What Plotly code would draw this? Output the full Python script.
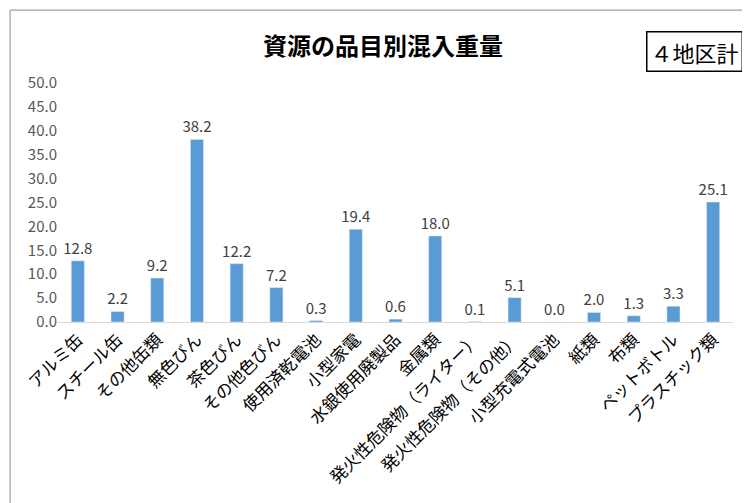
import plotly.graph_objects as go

categories = ["アルミ缶", "スチール缶", "その他缶類", "無色びん", "茶色びん", "その他色びん",
              "使用済乾電池", "小型家電", "水銀使用廃製品", "金属類", "発火性危険物（ライター）",
              "発火性危険物（その他）", "小型充電式電池", "紙類", "布類", "ペットボトル", "プラスチック類"]
values = [12.8, 2.2, 9.2, 38.2, 12.2, 7.2, 0.3, 19.4, 0.6, 18.0, 0.1, 5.1, 0.0, 2.0, 1.3, 3.3, 25.1]

font = "Noto Sans CJK JP"

fig = go.Figure(go.Bar(
    x=categories, y=values, marker_color="#5b9bd5", width=0.33,
    text=[f"{v:.1f}" for v in values], textposition="outside",
    textfont=dict(size=15, color="#404040"), cliponaxis=False,
))

fig.update_layout(
    width=750, height=503,
    margin=dict(l=50, r=25, t=75, b=189, autoexpand=False),
    paper_bgcolor="white", plot_bgcolor="white",
    font=dict(family=font, color="#595959"),
    uniformtext=dict(minsize=15, mode="show"),
    title=dict(text="<b>資源の品目別混入重量</b>", x=0.5, xanchor="center", y=0.94,
               font=dict(size=24, color="black")),
    showlegend=False,
    shapes=[dict(type="rect", xref="paper", yref="paper", x0=-0.071, x1=1.034, y0=-0.782, y1=1.305,
                 line=dict(color="#888", width=1))],
    annotations=[dict(text="４地区計", xref="paper", yref="paper", x=1.015, y=1.13,
                      xanchor="right", yanchor="middle", showarrow=False,
                      font=dict(size=22, color="black"), bordercolor="black", borderwidth=1.5,
                      borderpad=3, bgcolor="white")],
)
fig.update_xaxes(tickangle=-45, tickfont=dict(size=17, color="black"), automargin=False,
                 showline=True, linecolor="#d9d9d9", ticks="")
fig.update_yaxes(range=[0, 50], dtick=5, tickformat=".1f", showgrid=False, automargin=False,
                 tickfont=dict(size=15, color="#595959"), zeroline=False)

fig.write_html("out.html")
